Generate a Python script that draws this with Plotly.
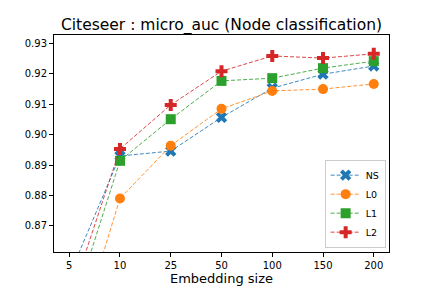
import plotly.graph_objects as go

sizes = ["5", "10", "25", "50", "100", "150", "200"]
ns = [0.8536, 0.8930, 0.8946, 0.9057, 0.9153, 0.9199, 0.9226]
l0 = [0.8246, 0.8790, 0.8964, 0.9085, 0.9144, 0.9150, 0.9167]
l1 = [0.8390, 0.8914, 0.9051, 0.9177, 0.9186, 0.9219, 0.9242]
l2 = [0.8450, 0.8953, 0.9098, 0.9209, 0.9259, 0.9252, 0.9266]
y_ticks = [0.87, 0.88, 0.89, 0.90, 0.91, 0.92, 0.93]

series = [
    ("NS", ns, (31, 119, 180), "x"),
    ("L0", l0, (255, 127, 14), "circle"),
    ("L1", l1, (44, 160, 44), "square"),
    ("L2", l2, (214, 39, 40), "cross"),
]

xi = list(range(len(sizes)))
fig = go.Figure()
for name, vals, (r, g, b), sym in series:
    fig.add_trace(go.Scatter(
        x=xi, y=vals, name=name, mode="lines+markers",
        line=dict(color=f"rgba({r},{g},{b},0.85)", width=1, dash="4px,2px"),
        marker=dict(symbol=sym, size=10, color=f"rgb({r},{g},{b})", line=dict(width=0)),
    ))

fig.update_layout(
    width=432, height=288,
    paper_bgcolor="white", plot_bgcolor="white",
    margin=dict(l=54, r=43, t=35, b=36, autoexpand=False),
    font=dict(family="DejaVu Sans", color="black", size=10),
    title=dict(text="Citeseer : micro_auc (Node classification)", x=0.5, xanchor="center",
               xref="paper", y=0.895, yanchor="bottom", yref="container", font=dict(size=15.5)),
    showlegend=True,
    legend=dict(x=0.99, y=0.02, xanchor="right", yanchor="bottom",
                bordercolor="#cccccc", borderwidth=1, bgcolor="rgba(255,255,255,0.8)",
                font=dict(size=9.5), itemwidth=30, tracegroupgap=0),
)
fig.update_xaxes(
    range=[-0.3, 6.3], tickmode="array", tickvals=xi, ticktext=sizes, automargin=False,
    showline=True, linecolor="black", linewidth=1, mirror=True,
    ticks="outside", ticklen=4, tickcolor="black", showgrid=False, zeroline=False,
    title=dict(text="Embedding size", font=dict(size=13), standoff=3),
)
fig.update_yaxes(
    range=[0.8614, 0.9328], tickmode="array", tickvals=y_ticks, automargin=False,
    ticktext=[f"{v:.2f}" for v in y_ticks],
    showline=True, linecolor="black", linewidth=1, mirror=True,
    ticks="outside", ticklen=4, tickcolor="black", showgrid=False, zeroline=False,
)
fig.write_html("out.html", config={"displayModeBar": False},
               post_script="document.body.style.margin='0';")
